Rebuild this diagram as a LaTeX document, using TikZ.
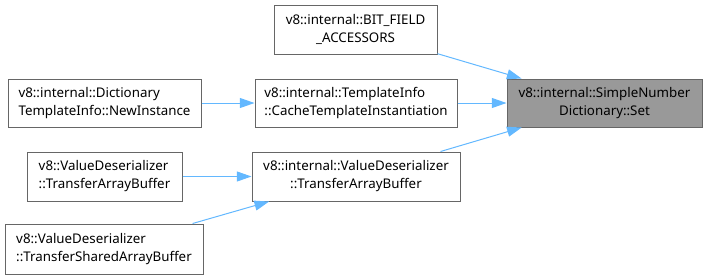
\documentclass[tikz,border=0pt]{standalone}
\usepackage{fontspec}
\setmainfont{Noto Sans}
\usetikzlibrary{arrows.meta}
\definecolor{edgeblue}{HTML}{63B8FF}
\definecolor{boxline}{HTML}{666666}
\definecolor{hilite}{HTML}{999999}

\begin{document}
\begin{tikzpicture}[
    x=0.75pt, y=-0.75pt, line width=0.75pt,
    fn/.style={draw=boxline, fill=white, inner sep=0pt, align=center,
               font=\fontsize{10}{13.5}\selectfont, text=black},
    fnl/.style={fn, align=left},
    current/.style={fn, fill=hilite},
    call/.style={draw=edgeblue, -{Triangle[length=11pt,width=7.5pt]}}]
  % fixed canvas, one unit per pixel
  \path[use as bounding box] (0,0) rectangle (707,279);

  % ================= callers, right column =================
  \node[fn, minimum width=122.25pt, minimum height=36.75pt] (bitfield) at (355.5,29.5)
    {v8::internal::BIT\_FIELD\\\_ACCESSORS};
  \node[fnl, minimum width=151.5pt, minimum height=36pt] (tmplinfo) at (356,103)
    {v8::internal::TemplateInfo\\::CacheTemplateInstantiation};
  \node[fn, minimum width=156pt, minimum height=36.75pt] (vdint) at (356,176.5)
    {v8::internal::ValueDeserializer\\::TransferArrayBuffer};

  % ================= callers, left column =================
  \node[fnl, minimum width=144.75pt, minimum height=36pt] (dict) at (104.5,103)
    {v8::internal::Dictionary\\TemplateInfo::NewInstance};
  \node[fnl, minimum width=116.25pt, minimum height=36.75pt] (vdleft) at (104.5,176.5)
    {v8::ValueDeserializer\\::TransferArrayBuffer};
  \node[fnl, minimum width=148.5pt, minimum height=37.5pt] (shared) at (104,249)
    {v8::ValueDeserializer\\::TransferSharedArrayBuffer};

  % ================= the function itself =================
  \node[current, minimum width=146.25pt, minimum height=36pt] (target) at (604.5,103)
    {v8::internal::SimpleNumber\\Dictionary::Set};

  % ================= call edges =================
  \draw[call] (bitfield) -- (target);
  \draw[call] (tmplinfo) -- (target);
  \draw[call] (vdint) -- (target);
  \draw[call] (dict) -- (tmplinfo);
  \draw[call] (vdleft) -- (vdint);
  \draw[call] (shared) -- (vdint);
\end{tikzpicture}
\end{document}
